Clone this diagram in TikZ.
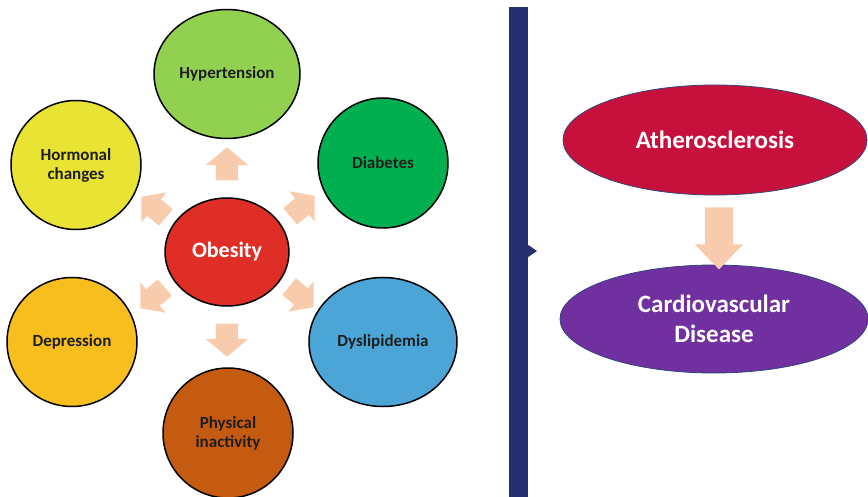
\documentclass[tikz,border=0pt]{standalone}
\usepackage{fontspec}
\setmainfont{Carlito}
\usetikzlibrary{shapes.geometric,shapes.arrows}
\definecolor{cHyp}{RGB}{146,208,80}
\definecolor{cDia}{RGB}{0,176,80}
\definecolor{cHor}{RGB}{233,227,52}
\definecolor{cObe}{RGB}{222,46,38}
\definecolor{cDep}{RGB}{247,190,30}
\definecolor{cDys}{RGB}{75,165,215}
\definecolor{cPhy}{RGB}{197,90,17}
\definecolor{cAth}{RGB}{200,16,60}
\definecolor{cCar}{RGB}{112,48,160}
\definecolor{cPeach}{RGB}{248,203,173}
\definecolor{cNavy}{RGB}{38,48,110}
\definecolor{cEdge}{RGB}{50,70,120}
\definecolor{cText}{RGB}{30,30,30}
\tikzset{
  risk/.style={ellipse,draw=black,line width=1.5pt,inner sep=0pt,
    font=\bfseries\fontsize{17}{19}\selectfont,text=cText,align=center},
  outcome/.style={ellipse,draw=cEdge,line width=0.8pt,inner sep=0pt,
    font=\bfseries\fontsize{25}{30}\selectfont,text=white,align=center},
  blockarrow/.style={single arrow,fill=cPeach,draw=none,inner sep=0pt,
    minimum height=33pt,minimum width=0pt,single arrow head extend=10pt,
    single arrow tip angle=100},
  smallarrow/.style={blockarrow,minimum height=32pt,single arrow head extend=9pt}
}
\newcommand{\shaft}[1]{\rule{0pt}{#1}}
\begin{document}
\begin{tikzpicture}[x=1pt,y=-1pt]
\useasboundingbox (0,0) rectangle (868,497);
% circles
\node[risk,fill=cHyp,minimum width=146pt,minimum height=129pt] (hyp) at (227,74) {Hypertension};
\node[risk,fill=cDia,minimum width=130pt,minimum height=130pt] (dia) at (383,163) {Diabetes};
\node[risk,fill=cHor,minimum width=130pt,minimum height=129pt] (hor) at (76,165) {Hormonal\\changes};
\node[risk,fill=cObe,minimum width=124pt,minimum height=108pt,text=white,
  font=\bfseries\fontsize{22}{26}\selectfont] (obe) at (227,252) {Obesity};
\node[risk,fill=cDep,minimum width=130pt,minimum height=129pt] (dep) at (72,342) {Depression};
\node[risk,fill=cDys,minimum width=148pt,minimum height=129pt] (dys) at (383,342) {Dyslipidemia};
\node[risk,fill=cPhy,minimum width=130pt,minimum height=130pt] (phy) at (228,433) {Physical\\inactivity};
% block arrows around obesity
\node[blockarrow,rotate=90] (aUp) at (227,168.5) {\shaft{22pt}};
\node[blockarrow,rotate=-90] (aDown) at (227,335.5) {\shaft{22pt}};
\node[smallarrow,rotate=140] (aUL) at (157,210) {\shaft{21pt}};
\node[smallarrow,rotate=40] (aUR) at (299,209) {\shaft{21pt}};
\node[smallarrow,rotate=220] (aDL) at (156,295) {\shaft{21pt}};
\node[smallarrow,rotate=-40] (aDR) at (298,294) {\shaft{21pt}};
% divider
\node[fill=cNavy,draw=none,minimum width=19pt,minimum height=490pt,inner sep=0pt] (bar) at (518.5,252) {};
\coordinate (tipR) at (537,251);
\fill[cNavy] (bar.east |- 0,245) -- (tipR) -- (bar.east |- 0,257) -- cycle;
% outcomes
\node[outcome,fill=cAth,minimum width=304pt,minimum height=110pt] (ath) at (715,140) {Atherosclerosis};
\node[outcome,fill=cCar,minimum width=308pt,minimum height=108pt] (car) at (714,319) {Cardiovascular\\Disease};
\node[single arrow,fill=cPeach,inner sep=0pt,minimum height=62pt,minimum width=0pt,
  single arrow head extend=10pt,single arrow tip angle=88,rotate=-90] (aRight) at (719,231) {\shaft{28pt}};
\end{tikzpicture}
\end{document}
